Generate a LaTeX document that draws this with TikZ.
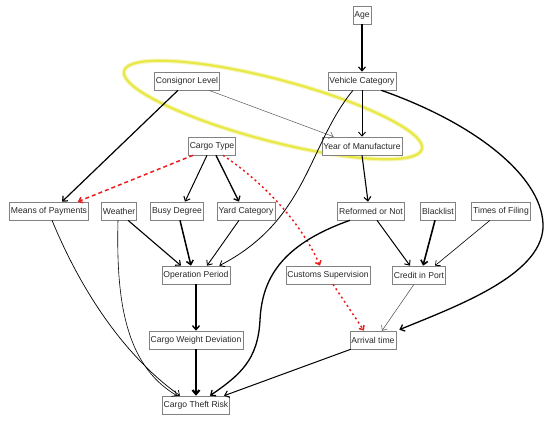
\documentclass[tikz,border=0pt]{standalone}
\usepackage{fontspec}
\setmainfont{Liberation Sans}
\usetikzlibrary{arrows.meta}
\definecolor{txt}{RGB}{40,40,40}
\definecolor{bord}{RGB}{130,130,130}
\definecolor{ylw}{RGB}{232,232,70}
\definecolor{ylwhalo}{RGB}{246,246,190}
\definecolor{redd}{RGB}{235,30,30}
\tikzset{
  box/.style={draw=bord, line width=0.6pt, fill=white, text=txt, font=\fontsize{8.6pt}{10pt}\selectfont,
    inner xsep=1.5pt, inner ysep=0pt, minimum height=18pt},
  arr/.style={-{Straight Barb[length=4pt,width=7pt]}, black},
  redarr/.style={-{Straight Barb[length=3.5pt,width=6pt]}, redd, line width=1.5pt},
}
\begin{document}
\begin{tikzpicture}[x=1pt,y=-1pt]
\useasboundingbox (0,0) rectangle (550,422);
% highlight ellipse
\draw[ylwhalo, line width=4.5pt, rotate around={-14.7:(273,110)}] (273,110) ellipse [x radius=154pt, y radius=31pt];
\draw[ylw, line width=2.2pt, rotate around={-14.7:(273,110)}] (273,110) ellipse [x radius=154pt, y radius=31pt];
% nodes
\node[box] (age) at (362,15) {Age};
\node[box] (vc) at (362,81) {Vehicle Category};
\node[box] (cl) at (187,81) {Consignor Level};
\node[box] (ym) at (362,146) {Year of Manufacture};
\node[box] (ct) at (212,146) {Cargo Type};
\node[box] (mp) at (49,211) {Means of Payments};
\node[box] (we) at (119,211) {Weather};
\node[box] (bd) at (177,211) {Busy Degree};
\node[box] (yc) at (246,211) {Yard Category};
\node[box] (rn) at (371,211) {Reformed or Not};
\node[box] (bl) at (438,211) {Blacklist};
\node[box] (tf) at (501,211) {Times of Filing};
\node[box] (op) at (196,275) {Operation Period};
\node[box] (cs) at (328,275) {Customs Supervision};
\node[box] (cip) at (419,275) {Credit in Port};
\node[box] (cwd) at (196,340) {Cargo Weight Deviation};
\node[box] (at) at (373,340) {Arrival time};
\node[box] (ctr) at (196,405) {Cargo Theft Risk};
% edges
\draw[arr, line width=1.1pt] (age.south) -- (vc.north);
\draw[arr, line width=0.9pt] (vc.south) -- (ym.north);
\draw[arr, line width=0.5pt, draw=black!65] ([xshift=-11pt]cl.south east) -- ([xshift=12pt]ym.north west);
\draw[arr, line width=1.2pt] ([xshift=-9pt]cl.south) -- ([xshift=13pt]mp.north);
\draw[redarr, dash pattern=on 4pt off 3pt] ([xshift=-19pt]ct.south) -- ([xshift=-11pt]mp.north east);
\draw[arr, line width=1pt] ([xshift=-5pt]ct.south) -- ([xshift=8pt]bd.north);
\draw[arr, line width=1.3pt] ([xshift=4pt]ct.south) -- ([xshift=-7pt]yc.north);
\draw[redarr, dash pattern=on 2pt off 3pt] ([xshift=11pt]ct.south) .. controls (260,180) and (300,220) .. ([xshift=-8pt]cs.north);
\draw[arr, line width=1.1pt] (ym.south) -- ([xshift=-3pt]rn.north);
\draw[arr, line width=0.7pt] ([xshift=3pt]mp.south) .. controls (85,300) and (130,360) .. ([xshift=-16pt]ctr.north);
\draw[arr, line width=0.6pt] ([xshift=-1pt]we.south) .. controls (116,300) and (125,365) .. ([xshift=-19pt]ctr.north);
\draw[arr, line width=1.1pt] ([xshift=9pt]we.south) -- ([xshift=-15pt]op.north);
\draw[arr, line width=1.5pt] ([xshift=3pt]bd.south) -- ([xshift=-5pt]op.north);
\draw[arr, line width=0.9pt] ([xshift=-7pt]yc.south) -- ([xshift=11pt]op.north);
\draw[arr, line width=0.8pt] ([xshift=-9pt]vc.south) .. controls (308,145) and (308,220) .. ([xshift=-11pt]op.north east);
\draw[arr, line width=1.4pt] (op.south) -- (cwd.north);
\draw[arr, line width=2.2pt] (cwd.south) -- (ctr.north);
\draw[arr, line width=1.3pt] ([xshift=-21pt]rn.south) .. controls (280,245) and (262,280) .. (260,320) .. controls (258,360) and (240,375) .. ([xshift=14pt]ctr.north);
\draw[arr, line width=1pt] ([xshift=6pt]rn.south) -- ([xshift=-9pt]cip.north);
\draw[arr, line width=1.6pt] ([xshift=-3pt]bl.south) -- ([xshift=4pt]cip.north);
\draw[arr, line width=0.6pt] ([xshift=-11pt]tf.south) -- ([xshift=16pt]cip.north);
\draw[redarr, dash pattern=on 2pt off 3pt] ([xshift=5pt]cs.south) -- ([xshift=-9pt]at.north);
\draw[arr, line width=0.5pt, draw=black!70] ([xshift=-5pt]cip.south) -- ([xshift=9pt]at.north);
\draw[arr, line width=1.3pt] ([xshift=-15pt]vc.south east) .. controls (480,125) and (545,180) .. (543,228) .. controls (540,275) and (460,305) .. ([xshift=3pt,yshift=1pt]at.north east);
\draw[arr, line width=1pt] ([xshift=1pt]at.south west) -- ([xshift=-6pt]ctr.north east);
\end{tikzpicture}
\end{document}
